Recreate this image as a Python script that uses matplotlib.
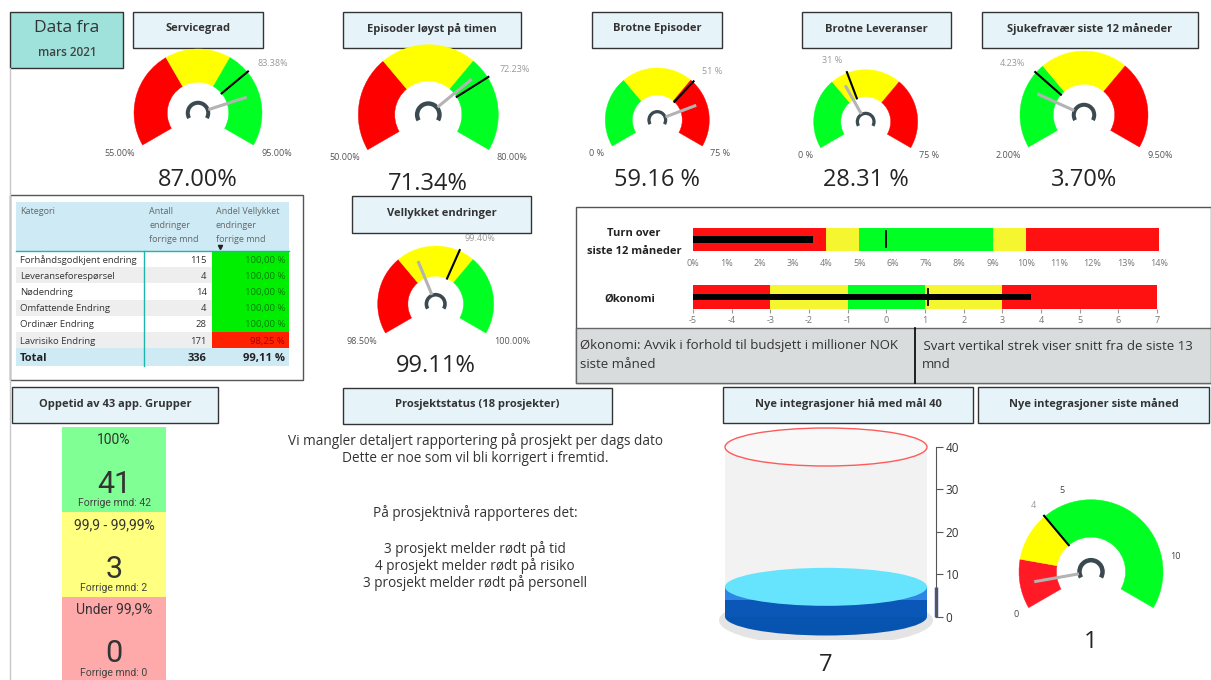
import numpy as np
import matplotlib
matplotlib.use('Agg')
import matplotlib.pyplot as plt
from matplotlib.patches import Rectangle, Wedge, Arc, Ellipse
from matplotlib.ticker import FuncFormatter

plt.rcParams['font.family'] = ['Open Sans', 'DejaVu Sans']

W, H = 1211, 680

# ---- gauges ----
gauge_min = [55, 50, 0, 0, 2.0, 98.5, 0]
gauge_max = [95, 80, 75, 75, 9.5, 100, 12]
gauge_value = [87.00, 71.34, 59.16, 28.31, 3.70, 99.11, 1]
gauge_target = [83.38, 72.23, 51, 31, 4.23, 99.40, 4]
gauge_breaks = [[70, 80], [60, 70], [25, 50], [25, 50], [4.5, 7.0], [99.0, 99.5], [2, 4]]
RYG = ['#ff0000', '#ffff00', '#00ff22']
GYR = ['#00ff22', '#ffff00', '#ff0000']
gauge_colors = [RYG, RYG, GYR, GYR, GYR, RYG, ['#ff1a26', '#ffff00', '#00ff22']]
label_fmt = ['{:.2f}%', '{:.2f}%', '{:.0f} %', '{:.0f} %', '{:.2f}%', '{:.2f}%', '{:.0f}']
value_fmt = ['{:.2f}%', '{:.2f}%', '{:.2f} %', '{:.2f} %', '{:.2f}%', '{:.2f}%', '{:.0f}']
g7_ticks = [0, 5, 10]

# ---- tabell ----
kategori = ['Forhåndsgodkjent endring', 'Leveranseforespørsel', 'Nødendring',
            'Omfattende Endring', 'Ordinær Endring', 'Lavrisiko Endring']
antall = [115, 4, 14, 4, 28, 171]
andel = [100.00, 100.00, 100.00, 100.00, 100.00, 98.25]
total_antall = 336
total_andel = 99.11

# ---- oppetid ----
oppetid_labels = ['100%', '99,9 - 99,99%', 'Under 99,9%']
oppetid_count = [41, 3, 0]
oppetid_prev = [42, 2, 0]

# ---- bullets ----
turnover_edges = [0, 4, 5, 9, 10, 14]
turnover_value = 3.6
turnover_avg = 5.8
okonomi_edges = [-5, -3, -1, 1, 3, 7]
okonomi_value = 3.75
okonomi_avg = 1.08

# ---- integrasjoner ----
integrasjoner_hia = 7
integrasjoner_maal = 40

prosjekt_lines = ['Vi mangler detaljert rapportering på prosjekt per dags dato',
                  'Dette er noe som vil bli korrigert i fremtid.',
                  'På prosjektnivå rapporteres det:',
                  '3 prosjekt melder rødt på tid',
                  '4 prosjekt melder rødt på risiko',
                  '3 prosjekt melder rødt på personell']

fig = plt.figure(figsize=(W / 100, H / 100), dpi=100)
ax = fig.add_axes([0, 0, 1, 1])
ax.set_xlim(0, W)
ax.set_ylim(H, 0)
ax.axis('off')


def fbox(x0, y0, x1, y1):
    return [x0 / W, 1 - y1 / H, (x1 - x0) / W, (y1 - y0) / H]


def title_box(x0, y0, x1, y1, text):
    ax.add_patch(Rectangle((x0, y0), x1 - x0, y1 - y0, facecolor='#e6f4fa',
                           edgecolor='#333333', lw=1))
    ax.text((x0 + x1) / 2, (y0 + y1) / 2 - 1, text, ha='center', va='center',
            fontsize=8, fontweight='bold', color='#333333')


def pt(cx, cy, a, r):
    t = np.radians(a)
    return cx + r * np.cos(t), cy - r * np.sin(t)


def gauge(i, cx, cy, ro, vy):
    lo, hi = gauge_min[i], gauge_max[i]

    def ang(v):
        return 210 - 240 * (v - lo) / (hi - lo)

    ri = 0.48 * ro
    edges = [lo] + gauge_breaks[i] + [hi]
    for k, col in enumerate(gauge_colors[i]):
        a0, a1 = ang(edges[k]), ang(edges[k + 1])
        ax.add_patch(Wedge((cx, cy), ro, -a0, -a1, width=ro - ri,
                           facecolor=col, edgecolor=col, lw=0.3))
    # target
    at = ang(gauge_target[i])
    p0, p1 = pt(cx, cy, at, ri), pt(cx, cy, at, ro + 1)
    ax.plot([p0[0], p1[0]], [p0[1], p1[1]], color='black', lw=1.5)
    tx, ty = pt(cx, cy, at, ro + 14)
    c = np.cos(np.radians(at))
    ha = 'left' if c > 0.2 else ('right' if c < -0.2 else 'center')
    ax.text(tx, ty, label_fmt[i].format(gauge_target[i]), ha=ha, va='center',
            fontsize=6.5, color='#999999')
    # needle
    av = ang(gauge_value[i])
    p0, p1 = pt(cx, cy, av, 0.17 * ro), pt(cx, cy, av, 0.8 * ro)
    ax.plot([p0[0], p1[0]], [p0[1], p1[1]], color='#b3b3b3', lw=2.2,
            solid_capstyle='butt')
    rc = 0.16 * ro
    ax.add_patch(Arc((cx, cy), 2 * rc, 2 * rc, theta1=-210, theta2=30,
                     color='#3b4a50', lw=0.045 * ro))
    # min / max
    if i == 6:
        for v in g7_ticks:
            x, y = pt(cx, cy, ang(v), ro + 14)
            ax.text(x, y, label_fmt[i].format(v), ha='center', va='center',
                    fontsize=6.5, color='#444444')
    else:
        ex = ro * np.cos(np.radians(30))
        ey = cy + ro * 0.5 + 8
        ax.text(cx - ex - 8, ey, label_fmt[i].format(lo), ha='right', va='center',
                fontsize=6.5, color='#555555')
        ax.text(cx + ex + 8, ey, label_fmt[i].format(hi), ha='left', va='center',
                fontsize=6.5, color='#555555')
    ax.text(cx, vy + 1.5, value_fmt[i].format(gauge_value[i]), ha='center', va='center',
            fontsize=17, color='#252423')


# left guide line
ax.plot([10, 10], [68, 680], color='#c8c8c8', lw=1)

# Data fra
ax.add_patch(Rectangle((10, 12), 113, 56, facecolor='#9fe2dc', edgecolor='#333333', lw=1))
ax.text(67, 28, 'Data fra', ha='center', va='center', fontsize=12.5, color='#333333')
ax.text(67, 53, 'mars 2021', ha='center', va='center', fontsize=8.5,
        fontweight='semibold', color='#444444')

titles = [((133, 12, 263, 48), 'Servicegrad'),
          ((343, 12, 521, 48), 'Episoder løyst på timen'),
          ((592, 12, 722, 48), 'Brotne Episoder'),
          ((802, 12, 951, 48), 'Brotne Leveranser'),
          ((982, 12, 1198, 48), 'Sjukefravær siste 12 måneder'),
          ((352, 196, 531, 233), 'Vellykket endringer'),
          ((12, 387, 218, 423), 'Oppetid av 43 app. Grupper'),
          ((343, 388, 612, 424), 'Prosjektstatus (18 prosjekter)'),
          ((723, 387, 973, 423), 'Nye integrasjoner hiå med mål 40'),
          ((978, 387, 1209, 423), 'Nye integrasjoner siste måned')]
for box, t in titles:
    title_box(*box, t)

gauge_layout = [(198, 113, 64, 178), (428.3, 114.7, 70, 183), (657.3, 120, 52, 178),
                (865.7, 121.7, 52, 178), (1084, 115, 64, 178), (435.7, 304, 58, 365),
                (1091, 571.7, 72, 640)]
for i, (cx, cy, ro, vy) in enumerate(gauge_layout):
    gauge(i, cx, cy, ro, vy)

# ---- tabell ----
tx0, tx1 = 15.7, 289.3
ax.add_patch(Rectangle((10, 195), 293, 185, fill=False, edgecolor='#555555', lw=1))
ax.add_patch(Rectangle((tx0, 201.7), tx1 - tx0, 251 - 201.7, color='#cdeaf5', lw=0))
hdr = [(20, ['Kategori']), (149, ['Antall', 'endringer', 'forrige mnd']),
       (216, ['Andel Vellykket', 'endringer', 'forrige mnd'])]
for x, lines in hdr:
    for k, s in enumerate(lines):
        ax.text(x, 211 + 14 * k, s, ha='left', va='center', fontsize=6.5, color='#666666')
ax.plot([220], [247], marker='v', markersize=3, color='#222222')
row_h = 16.2
for j, (k, n, p) in enumerate(zip(kategori, antall, andel)):
    y0 = 251 + j * row_h
    if j % 2 == 1:
        ax.add_patch(Rectangle((tx0, y0), tx1 - tx0, row_h, color='#eeeeee', lw=0))
    good = p >= 99.5
    ax.add_patch(Rectangle((212, y0), tx1 - 212, row_h,
                           color='#00ee00' if good else '#ff2200', lw=0))
    yc = y0 + row_h / 2 + 1
    ax.text(20, yc, k, ha='left', va='center', fontsize=6.8, color='#333333')
    ax.text(206.7, yc, str(n), ha='right', va='center', fontsize=6.8, color='#333333')
    ax.text(285, yc, f'{p:.2f} %'.replace('.', ','), ha='right', va='center',
            fontsize=6.8, color='#0a7a0a' if good else '#a00000')
ty0 = 251 + 6 * row_h
ax.add_patch(Rectangle((tx0, ty0), tx1 - tx0, 366 - ty0, color='#cdeaf5', lw=0))
yc = (ty0 + 366) / 2 + 1
ax.text(20, yc, 'Total', ha='left', va='center', fontsize=8, fontweight='bold', color='#222222')
ax.text(206.7, yc, str(total_antall), ha='right', va='center', fontsize=8,
        fontweight='bold', color='#222222')
ax.text(285, yc, f'{total_andel:.2f} %'.replace('.', ','), ha='right', va='center',
        fontsize=8, fontweight='bold', color='#222222')
ax.plot([tx0, tx1], [251, 251], color='#1fb5ad', lw=1)
ax.plot([144.3, 144.3], [251, 366], color='#1fb5ad', lw=1)

# ---- oppetid ----
tile_cols = ['#80ff95', '#ffff80', '#ffaaaa']
for j, (lab, cnt, prev) in enumerate(zip(oppetid_labels, oppetid_count, oppetid_prev)):
    top = 427.3 + j * 84.7
    ax.add_patch(Rectangle((62.3, top), 103.4, 84.7, color=tile_cols[j], lw=0))
    ax.text(114, top + 13, lab, ha='center', va='center', fontsize=10,
            color='#333333', family=['Roboto', 'DejaVu Sans'])
    ax.text(114, top + 57, str(cnt), ha='center', va='center', fontsize=22,
            color='#333333', family=['Roboto', 'DejaVu Sans'])
    ax.text(114, top + 76, f'Forrige mnd: {prev}', ha='center', va='center',
            fontsize=7.5, color='#444444', family=['Roboto', 'DejaVu Sans'])

# ---- prosjekt ----
for s, y in zip(prosjekt_lines, [440, 457, 512, 548, 565, 582]):
    ax.text(475, y + 1, s, ha='center', va='center', fontsize=9.8, color='#333333')

# ---- bullet panel ----
ax.add_patch(Rectangle((576, 207), W - 576, 176, fill=False, edgecolor='#555555', lw=1))
ax.add_patch(Rectangle((576, 327.7), W - 576, 55.3, facecolor='#d9dcdd',
                       edgecolor='#666666', lw=1))
ax.plot([915, 915], [327.7, 383], color='black', lw=1.2)
ax.text(580, 346, 'Økonomi: Avvik i forhold til budsjett i millioner NOK', ha='left',
        va='center', fontsize=9.5, color='#333333')
ax.text(580, 365, 'siste måned', ha='left', va='center', fontsize=9.5, color='#333333')
ax.text(920, 346, ' Svart vertikal strek viser snitt fra de siste 13', ha='left',
        va='center', fontsize=9.5, color='#333333')
ax.text(922, 365, 'mnd', ha='left', va='center', fontsize=9.5, color='#333333')
ax.text(634, 233, 'Turn over', ha='center', va='center', fontsize=8,
        fontweight='bold', color='#222222')
ax.text(634, 251, 'siste 12 måneder', ha='center', va='center', fontsize=8,
        fontweight='bold', color='#222222')
ax.text(630, 299, 'Økonomi', ha='center', va='center', fontsize=8,
        fontweight='bold', color='#222222')

B_COLS = ['#ff1111', '#f6f630', '#00ff22', '#f6f630', '#ff1111']


def bullet(box, edges, value, avg, bh, fmt, ticklen, pad):
    b = fig.add_axes(fbox(*box))
    for k, c in enumerate(B_COLS):
        b.barh(0, edges[k + 1] - edges[k], left=edges[k], height=1, color=c, lw=0)
    b.barh(0, value - edges[0], left=edges[0], height=bh, color='black', lw=0)
    b.plot([avg, avg], [-0.34, 0.34], color='black', lw=1.3)
    b.set_xlim(edges[0], edges[-1])
    b.set_ylim(-0.5, 0.5)
    b.set_yticks([])
    b.set_xticks(np.arange(edges[0], edges[-1] + 1))
    b.xaxis.set_major_formatter(FuncFormatter(fmt))
    for s in b.spines.values():
        s.set_visible(False)
    b.tick_params(axis='x', length=ticklen, pad=pad, labelsize=6.5,
                  labelcolor='#777777', color='#999999')
    b.patch.set_alpha(0)


bullet((693, 227.7, 1159, 251), turnover_edges, turnover_value, turnover_avg, 0.31,
       lambda v, p: f'{v:.0f}%', 0, 6)
bullet((693, 285, 1157, 309), okonomi_edges, okonomi_value, okonomi_avg, 0.28,
       lambda v, p: f'{v:.0f}', 3, 2)

# ---- sylinder ----
ppu = (616.5 - 447) / integrasjoner_maal
cyl = fig.add_axes(fbox(716, 420, 936, 640))
cyl.set_xlim(-110, 110)
cyl.set_ylim(-(640 - 616.5) / ppu, integrasjoner_maal + (447 - 420) / ppu)
cyl.patch.set_alpha(0)
eh = 2 * 19 / ppu
cyl.add_patch(Ellipse((0, -0.9), 214, eh + 3, color='#e4e4e4', lw=0))
cyl.add_patch(Rectangle((-101, 0), 202, integrasjoner_maal, color='#f2f2f2', lw=0))
cyl.add_patch(Ellipse((0, 0), 202, eh, color='#0753b0', lw=0))
cyl.add_patch(Rectangle((-101, 0), 202, integrasjoner_hia, color='#0a57b8', lw=0))
cyl.add_patch(Rectangle((-101, integrasjoner_hia - eh * 0.35), 202, eh * 0.35,
                        color='#2d86e6', lw=0))
cyl.add_patch(Ellipse((0, integrasjoner_hia), 202, eh, color='#66e4fd', lw=0))
cyl.add_patch(Ellipse((0, integrasjoner_maal), 202, eh, facecolor='#f8f8f8',
                      edgecolor='#ff5a5a', lw=1))
for s in ['left', 'top', 'bottom']:
    cyl.spines[s].set_visible(False)
cyl.spines['right'].set_bounds(0, integrasjoner_maal)
cyl.spines['right'].set_color('#555555')
cyl.set_xticks([])
cyl.yaxis.tick_right()
cyl.set_yticks([0, 10, 20, 30, 40])
cyl.tick_params(axis='y', length=5, pad=2, labelsize=8.5, labelcolor='#333333',
                color='#555555')
cyl.plot([110, 110], [0, integrasjoner_hia], color='#3553d6', lw=2.5, clip_on=False,
         solid_capstyle='butt')
ax.text(826, 665, str(integrasjoner_hia), ha='center', va='center', fontsize=17,
        color='#252423')

fig.savefig('out.png', dpi=100, facecolor='white')
